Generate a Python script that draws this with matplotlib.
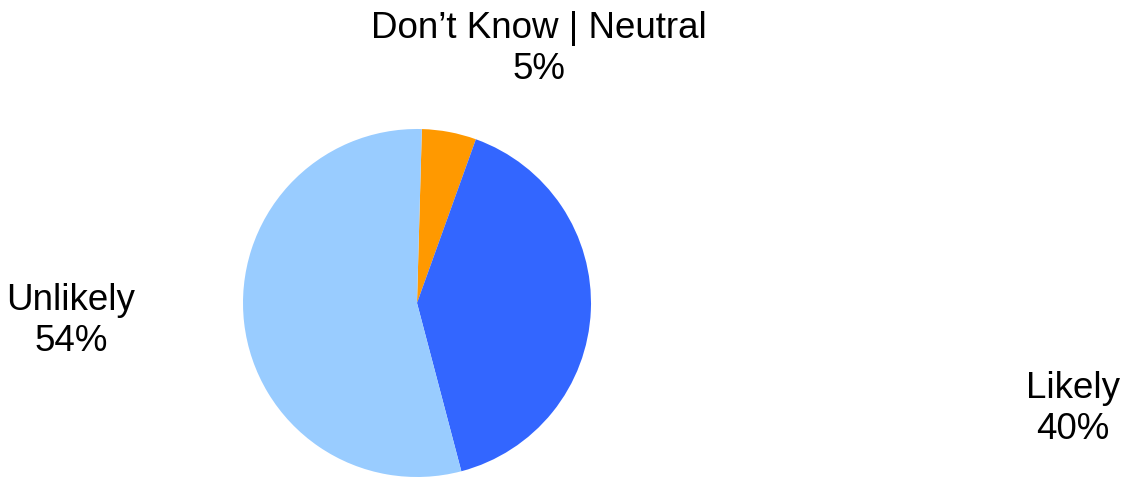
import matplotlib.pyplot as plt

# survey answers, clockwise from the top
labels = ["Don\u2019t Know | Neutral", "Likely", "Unlikely"]
shares = [5, 40, 54]
colors = ["#FF9900", "#3366FF", "#99CCFF"]

W, H = 1131, 481
fig = plt.figure(figsize=(W / 100, H / 100), dpi=100)
plt.rcParams['font.family'] = ['Liberation Sans', 'DejaVu Sans']

# pie centre and radius in pixels
cx, cy, r = 417, 304, 174
ax = fig.add_axes([(cx - r) / W, (H - cy - r) / H, 2 * r / W, 2 * r / H])
ax.pie(shares, colors=colors, startangle=88.4, counterclock=False,
       radius=1, wedgeprops=dict(linewidth=0))
ax.set_xlim(-1, 1)
ax.set_ylim(-1, 1)
ax.set_aspect('equal')
ax.axis('off')

# label positions (pixel centres)
label_pos = [(539, 49), (1073, 409), (71, 321)]
for lab, val, (x, y) in zip(labels, shares, label_pos):
    fig.text(x / W, 1 - y / H, f"{lab}\n{val}%", ha='center', va='center',
             fontsize=26.5, linespacing=1.25)

fig.savefig("out.png", dpi=100)
